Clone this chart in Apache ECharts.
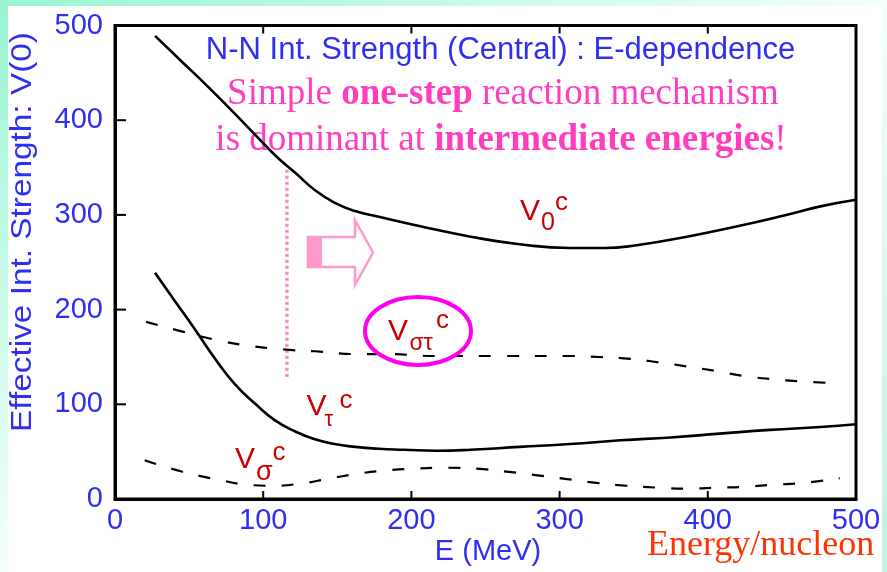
<!DOCTYPE html>
<html>
<head>
<meta charset="utf-8">
<script src="https://cdn.jsdelivr.net/npm/echarts@6/dist/echarts.min.js"></script>
<style>
  html, body { margin: 0; padding: 0; width: 887px; height: 572px; overflow: hidden;
    background: linear-gradient(to bottom right, #98f5d2 0%, #f3fffb 50%, #bdf3df 100%); }
  #chart { width: 887px; height: 572px; }
</style>
</head>
<body>
<div id="chart"></div>
<script>
// Energy axis (MeV) and strength axis ranges
const energyMax = 500;
const strengthMax = 500;
const tickStep = 100;
const frameTicks = [100, 200, 300, 400];

// Central N-N interaction strengths V(0) vs. energy, [E (MeV), V]
const v0c = [[27,489],[45,462],[63,435],[77,413],[95,384],[108,363],[122,344],[135,326],[148,313],[162,304],[178,298],
  [206,288],[240,277],[273,269],[307,265],[330,265],[352,268],[386,277],[420,288],[453,300],[476,309],[500,316]];
const vTauC = [[27,239],[40,210],[54,179],[68,147],[81,121],[95,100],[108,83],[122,71],[135,63],[148,58],[162,55],
  [178,53],[195,52],[217,51],[240,52],[273,55],[307,58],[341,62],[375,65],[408,69],[442,73],[476,76],[500,79]];
const vSigmaTauC = [[21,187],[45,177],[68,168],[90,162],[113,158],[135,156],[166,153],[183,153],[217,151],[262,151],
  [307,151],[325,150],[348,148],[368,144],[386,140],[406,135],[424,130],[447,126],[465,124],[489,122]];
const vSigmaC = [[20,41],[45,29],[68,21],[90,15],[104,14],[124,16],[146,22],[165,27],[182,30],[201,32],[224,33],
  [244,32],[264,29],[285,25],[305,21],[325,17],[345,14],[366,12],[386,11],[406,12],[426,13],[444,15],[465,17],[489,22]];

// Marker for the onset of the intermediate-energy region
const markerE = [116, 116];
const markerV = [129, 351];

// Texts
const chartTitle = 'N-N Int. Strength (Central) : E-dependence';
const yAxisName = 'Effective Int. Strength: V(0)';
const xAxisName = 'E (MeV)';
const unitNote = 'Energy/nucleon';
const noteLine1 = ['Simple ', 'one-step', ' reaction mechanism'];
const noteLine2 = ['is dominant at ', 'intermediate energies', '!'];

const BLUE = '#2f2ff2';
const RED = '#cc0000';
const PINK = '#ff3dbf';
const SANS = '"Liberation Sans", Arial, sans-serif';
const SERIF = '"Liberation Serif", "Times New Roman", serif';

const W = 887, H = 572;
const gridBox = { left: 115, right: 31, top: 25.5, bottom: 73 };
const plotW = W - gridBox.left - gridBox.right;
const plotH = H - gridBox.top - gridBox.bottom;

const chart = echarts.init(document.getElementById('chart'));

// text placed by left edge / baseline (sans metrics)
function sansText(text, x, baseline, size, color, z) {
  return {
    type: 'text', x: x, y: baseline - 0.3465 * size, z: z || 10,
    style: { text: text, fill: color, font: size + 'px ' + SANS,
      align: 'left', verticalAlign: 'middle', textAlign: 'left', textVerticalAlign: 'middle' }
  };
}

// Curve labels: V with subscript and superscript c
function curveLabel(sub, vx, vBase, subX, subBase, subSize, cx, cBase) {
  return [
    sansText('V', vx, vBase, 30, RED),
    sansText(sub, subX, subBase, subSize, RED),
    sansText('c', cx, cBase, 26, RED)
  ];
}

function curve(name, data, dashed) {
  return {
    name: name, type: 'line', data: data, smooth: 0.5, showSymbol: false, symbol: 'none',
    lineStyle: { color: '#000', width: dashed ? 2.2 : 2.6, type: dashed ? [12, 16] : 'solid' },
    z: 3
  };
}

// Inward frame ticks as short segments in data space (8 px on x edges, 11 px on the left edge)
const tickV = 8 * strengthMax / plotH;
const tickE = 11 * energyMax / plotW;
function tickSeries(points) {
  return { type: 'line', data: points, showSymbol: false, symbol: 'none', silent: true, clip: false, z: 4,
    lineStyle: { color: '#000', width: 2 } };
}
const tickSeriesList = [];
frameTicks.forEach(v => {
  tickSeriesList.push(tickSeries([[v, 0], [v, tickV]]));
  tickSeriesList.push(tickSeries([[v, strengthMax], [v, strengthMax - tickV]]));
  tickSeriesList.push(tickSeries([[0, v], [tickE, v]]));
});

const arrowPts = [[308,237],[355,237],[355,220],[373,252.5],[355,285],[355,267],[308,267]];

const graphics = [
  { type: 'rect', z: -100, silent: true, shape: { x: 8, y: 6, width: 874, height: 566 }, style: { fill: '#ffffff' } },
  // title
  { type: 'text', x: 500.5, y: 61 - 0.3465 * 31, z: 10,
    style: { text: chartTitle, fill: BLUE, font: '31px ' + SANS, align: 'center', verticalAlign: 'middle',
      textAlign: 'center', textVerticalAlign: 'middle' } },
  // note lines
  { type: 'text', x: 503, y: 106.7 - 0.3375 * 37, z: 1,
    style: { text: '{n|' + noteLine1[0] + '}{b|' + noteLine1[1] + '}{n|' + noteLine1[2] + '}',
      align: 'center', verticalAlign: 'middle', textAlign: 'center', textVerticalAlign: 'middle',
      rich: { n: { fill: PINK, color: PINK, fontSize: 37, fontFamily: SERIF },
              b: { fill: PINK, color: PINK, fontSize: 37, fontFamily: SERIF, fontWeight: 'bold' } } } },
  { type: 'text', x: 501, y: 153 - 0.3375 * 37, z: 1,
    style: { text: '{n|' + noteLine2[0] + '}{b|' + noteLine2[1] + '}{n|' + noteLine2[2] + '}',
      align: 'center', verticalAlign: 'middle', textAlign: 'center', textVerticalAlign: 'middle',
      rich: { n: { fill: PINK, color: PINK, fontSize: 37, fontFamily: SERIF },
              b: { fill: PINK, color: PINK, fontSize: 37, fontFamily: SERIF, fontWeight: 'bold' } } } },
  // y axis name
  { type: 'text', x: 23, y: 232, rotation: Math.PI / 2, scaleX: 1.15, z: 10,
    style: { text: yAxisName, fill: BLUE, font: '29px ' + SANS, align: 'center', verticalAlign: 'middle',
      textAlign: 'center', textVerticalAlign: 'middle' } },
  // x axis name
  { type: 'text', x: 488, y: 552, z: 10,
    style: { text: xAxisName, fill: BLUE, font: '29px ' + SANS, align: 'center', verticalAlign: 'middle',
      textAlign: 'center', textVerticalAlign: 'middle' } },
  // energy/nucleon note
  { type: 'text', x: 647, y: 558 - 0.3375 * 36, z: 10,
    style: { text: unitNote, fill: '#ff3300', font: '36px ' + SERIF, align: 'left', verticalAlign: 'middle',
      textAlign: 'left', textVerticalAlign: 'middle' } },
  // hollow arrow
  { type: 'polygon', z: 5, shape: { points: arrowPts }, style: { fill: '#ffffff', stroke: '#ff99cc', lineWidth: 2.5 } },
  { type: 'rect', z: 6, shape: { x: 308, y: 237, width: 14, height: 30 }, style: { fill: '#ff99cc' } },
  // highlight ellipse
  { type: 'ellipse', z: 8, shape: { cx: 418, cy: 331, rx: 53, ry: 34 }, style: { fill: 'none', stroke: '#ff00ee', lineWidth: 4 } }
]
  .concat(curveLabel('0', 520, 222, 541, 232, 25, 555, 212))
  .concat(curveLabel('\u03c4', 306.5, 416.7, 324.5, 428, 22, 339.5, 410))
  .concat(curveLabel('\u03c3', 235, 470, 256, 481.7, 27, 272.5, 461.7))
  .concat(curveLabel('\u03c3\u03c4', 388, 341.7, 409.5, 351.7, 23, 436, 330));

const axisLineStyle = { color: '#000', width: 3 };
const tickLabel = { color: BLUE, fontSize: 29, fontFamily: SANS };

chart.setOption({
  animation: false,
  // grid border forms the closed frame
  grid: Object.assign({ show: true, borderColor: '#000', borderWidth: 3, backgroundColor: 'transparent' }, gridBox),
  xAxis: { type: 'value', min: 0, max: energyMax, interval: tickStep,
    axisLine: { show: true, lineStyle: axisLineStyle },
    axisTick: { show: false },
    axisLabel: Object.assign({ margin: 7 }, tickLabel),
    splitLine: { show: false } },
  yAxis: { type: 'value', min: 0, max: strengthMax, interval: tickStep,
    axisLine: { show: true, lineStyle: axisLineStyle },
    axisTick: { show: false },
    axisLabel: Object.assign({ margin: 12 }, tickLabel),
    splitLine: { show: false } },
  series: [
    curve('V0c', v0c, false),
    curve('Vτc', vTauC, false),
    curve('Vστc', vSigmaTauC, true),
    curve('Vσc', vSigmaC, true),
    { name: 'onset', type: 'line', data: markerE.map((e, i) => [e, markerV[i]]), showSymbol: false, symbol: 'none',
      lineStyle: { color: '#ff8ac6', width: 3.5, type: [3, 3] }, z: 2 }
  ].concat(tickSeriesList),
  graphic: { elements: graphics }
});
</script>
</body>
</html>
